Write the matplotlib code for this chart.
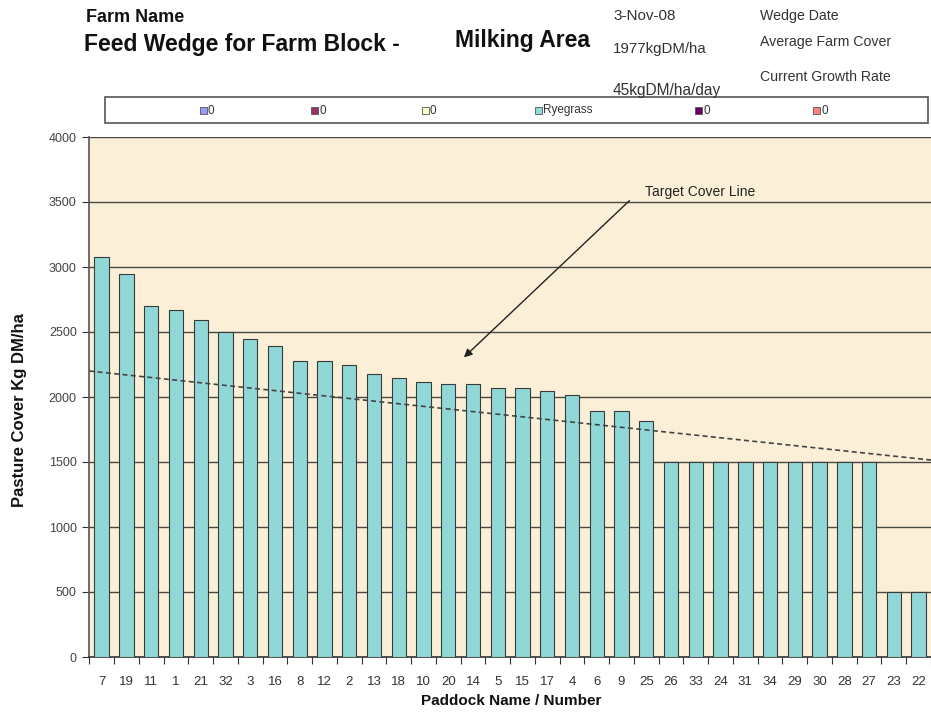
import matplotlib
matplotlib.use("Agg")
import matplotlib.pyplot as plt
from matplotlib.patches import Rectangle
import numpy as np

paddocks = ["7", "19", "11", "1", "21", "32", "3", "16", "8", "12", "2", "13", "18", "10",
            "20", "14", "5", "15", "17", "4", "6", "9", "25", "26", "33", "24", "31", "34",
            "29", "30", "28", "27", "23", "22"]
cover = [3075, 2945, 2700, 2670, 2590, 2500, 2450, 2390, 2275, 2275, 2245, 2175, 2145, 2115,
         2100, 2100, 2070, 2070, 2045, 2015, 1890, 1890, 1815, 1500, 1500, 1500, 1500, 1500,
         1500, 1500, 1500, 1500, 500, 500]
target_start = 2200
target_end = 1515
yticks = [0, 500, 1000, 1500, 2000, 2500, 3000, 3500, 4000]

legend_labels = ["0", "0", "0", "Ryegrass", "0", "0"]
legend_colors = ["#9999ff", "#993366", "#ffffcc", "#8fdada", "#660066", "#ff8080"]

FONT = ["Liberation Sans Narrow", "Liberation Sans", "DejaVu Sans"]
plt.rcParams['font.family'] = FONT

W, H = 931, 715
fig = plt.figure(figsize=(W / 100, H / 100), dpi=100)
fig.patch.set_facecolor("white")

ax = fig.add_axes([89.3 / W, 1 - 657 / H, (W - 89.3) / W, (657 - 137) / H])
ax.set_facecolor("#fbefd8")

x = np.arange(len(paddocks))
ax.bar(x, cover, width=0.58, color="#90d8d8", edgecolor="#3a3a3a", linewidth=0.8, zorder=3)

ax.set_xlim(-0.5, len(paddocks) - 0.5)
ax.set_ylim(0, 4000)
ax.set_yticks(yticks)
ax.set_yticklabels([str(v) for v in yticks], fontsize=9, color="#444444")
ax.set_xticks(x)
ax.set_xticklabels(paddocks, fontsize=9.5, color="#333333")
ax.tick_params(axis="x", length=0, pad=14)
ax.set_xticks(np.arange(-0.5, len(paddocks), 1), minor=True)
ax.tick_params(axis="x", which="minor", length=5, color="#333333", width=0.8)
ax.tick_params(axis="y", length=5, color="#333333", width=0.8, pad=4)

for v in yticks[1:]:
    ax.axhline(v, color="#4a4a44", linewidth=1.0, zorder=1)

for side in ["top", "right"]:
    ax.spines[side].set_visible(False)
ax.spines["left"].set_color("#555555")
ax.spines["bottom"].set_color("#333333")
ax.spines["left"].set_linewidth(1.2)
ax.spines["bottom"].set_linewidth(1.2)

# target cover line
ax.plot([-0.5, len(paddocks) - 0.5], [target_start, target_end], linestyle=(0, (3, 2)),
        color="#444444", linewidth=1.2, zorder=4)

ax.annotate("", xy=(14.55, 2290), xytext=(21.4, 3525),
            arrowprops=dict(arrowstyle="-|>", color="#222222", lw=1.0, mutation_scale=12), zorder=5)
ax.text(21.95, 3580, "Target Cover Line", fontsize=10, color="#222222", ha="left", va="center", zorder=5)


def ft(px, py, s, **kw):
    fig.text(px / W, 1 - py / H, s, **kw)


ft(20, 410, "Pasture Cover Kg DM/ha", fontsize=12, fontweight="bold", rotation=90,
   ha="center", va="center", color="#111111")
ft(511, 701, "Paddock Name / Number", fontsize=11, fontweight="bold",
   ha="center", va="center", color="#111111")

# header texts
ft(86, 18, "Farm Name", fontsize=13, fontweight="bold", va="center", color="#111111")
ft(84, 44, "Feed Wedge for Farm Block -", fontsize=16.5, fontweight="bold", va="center", color="#111111")
ft(455, 40, "Milking Area", fontsize=16.5, fontweight="bold", va="center", color="#111111")
ft(613, 16, "3-Nov-08", fontsize=11, va="center", color="#333333")
ft(760, 16, "Wedge Date", fontsize=10.2, va="center", color="#333333")
ft(613, 49, "1977kgDM/ha", fontsize=10.8, va="center", color="#333333")
ft(760, 42, "Average Farm Cover", fontsize=10.2, va="center", color="#333333")
ft(760, 77, "Current Growth Rate", fontsize=10.2, va="center", color="#333333")
ft(613, 90, "45kgDM/ha/day", fontsize=11.2, va="center", color="#333333")

# legend box
fig.patches.append(Rectangle((105 / W, 1 - 123 / H), (928 - 105) / W, 26 / H,
                             transform=fig.transFigure, facecolor="white",
                             edgecolor="#555555", linewidth=1.2, zorder=1))
legend_x = [200, 311, 422, 535, 695, 813]
for lx, lab, col in zip(legend_x, legend_labels, legend_colors):
    fig.patches.append(Rectangle((lx / W, 1 - 114 / H), 7 / W, 7 / H, transform=fig.transFigure,
                                 facecolor=col, edgecolor="#555555", linewidth=0.6, zorder=2))
    ft(lx + 8, 110.5, lab, fontsize=8.5, va="center", color="#333333")

fig.savefig("out.png", dpi=100)
